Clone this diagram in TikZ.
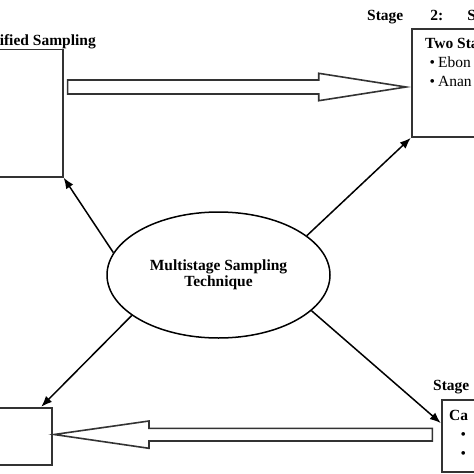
\documentclass[tikz,border=0pt]{standalone}
\usepackage{fontspec}
\setmainfont{Liberation Serif}
\usetikzlibrary{arrows.meta,shapes.geometric,calc}
\tikzset{
  stagebox/.style={draw=black!80, line width=1.8pt, fill=white, inner sep=0pt, rectangle},
  conn/.style={draw=black, line width=1.5pt, -{Latex[length=11pt,width=8.5pt]}},
  hollow/.style={draw=black!80, line width=1.6pt, fill=white},
  lbl/.style={inner sep=0pt, font=\fontsize{15.5}{18}\selectfont\bfseries},
  txt/.style={inner sep=0pt, font=\fontsize{15.5}{18}\selectfont},
  centre/.style={draw=black, line width=1.5pt, ellipse, inner sep=0pt, minimum width=223pt, minimum height=126pt, align=center, font=\fontsize{15.5}{17.5}\selectfont\bfseries}
}
\begin{document}
\begin{tikzpicture}[x=1pt,y=-1pt]
\useasboundingbox (0,0) rectangle (474,474);
\clip (0,0) rectangle (474,474);
\fill[white] (0,0) rectangle (474,474);

% boxes
\node[stagebox, minimum width=102.7pt, minimum height=127.2pt] (s1) at (11.35,113.1) {};
\node[stagebox, minimum width=108.3pt, minimum height=108pt] (s2) at (465.85,83) {};
\node[stagebox, minimum width=92.3pt, minimum height=57.3pt] (s3) at (6.15,436.35) {};
\node[stagebox, minimum width=78.3pt, minimum height=72pt] (s4) at (480.85,436) {};

% centre ellipse
\node[centre] (ell) at (218.5,275) {Multistage Sampling\\[-1pt]Technique};

% labels
\node[lbl, anchor=base east] (t1) at (96,45) {ified Sampling};
\node[lbl, anchor=base west] (t2) at (367,20) {Stage\hspace{27pt}2:\hspace{24pt}S};
\node[lbl, anchor=base west] (t3) at (425,48) {Two Sta};
\node[txt, anchor=base west] (t4) at (429.5,67.5) {\textbullet\hspace{3pt}Ebon};
\node[txt, anchor=base west] (t5) at (429.5,86.5) {\textbullet\hspace{3pt}Anan};
\node[lbl, anchor=base west] (t6) at (433,390) {Stage};
\node[lbl, anchor=base west] (t7) at (449,420) {Ca};
\node[txt, anchor=base west] (t8) at (460.5,439.5) {\textbullet};
\node[txt, anchor=base west] (t9) at (460.5,458.5) {\textbullet};

% hollow block arrows
\coordinate (a1) at ($(s1.east)+(4,-26)$);
\coordinate (a2) at ($(s2.west)+(-4.7,4)$);
\draw[hollow] (a1|-0,80) -- (318.7,80) -- (318.7,73.3) -- (a2) -- (318.7,100.7) -- (318.7,94) -- (a1|-0,94) -- cycle;
\coordinate (b1) at ($(s4.west)+(-8.4,-1.5)$);
\coordinate (b2) at ($(s3.east)+(1,-1.85)$);
\draw[hollow] (b1|-0,428.3) -- (149,428.3) -- (149,421) -- (b2) -- (149,448.3) -- (149,441) -- (b1|-0,441) -- cycle;

% connectors
\draw[conn] (ell.168) -- (s1.south east);
\draw[conn] (ell.24) -- (s2.south west);
\draw[conn] (ell.205) -- ($(s3.north east)+(-12,0)$);
\draw[conn] (ell.339) -- ($(s4.north west)+(0,24)$);
\end{tikzpicture}
\end{document}
